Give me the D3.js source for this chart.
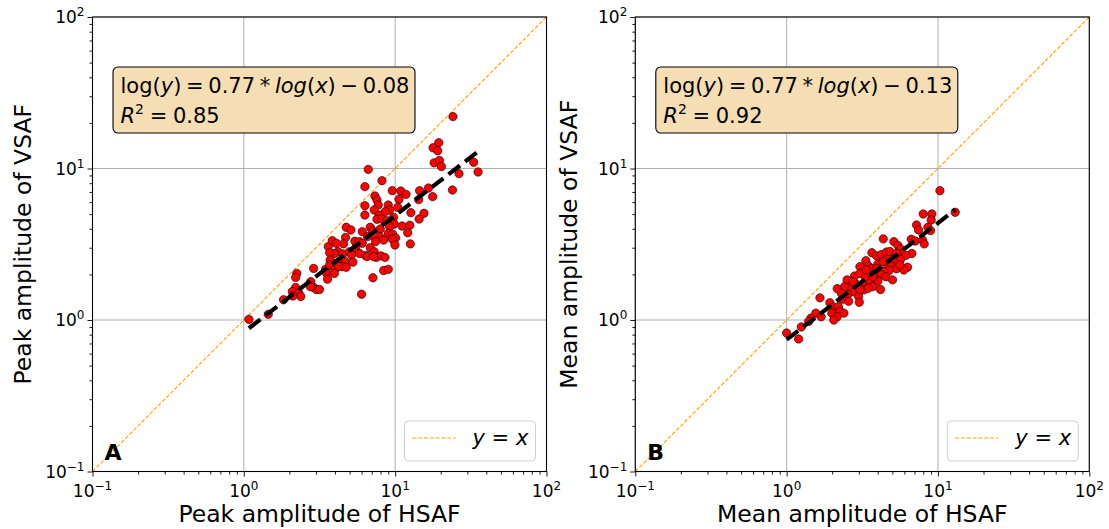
<!DOCTYPE html>
<html>
<head>
<meta charset="utf-8">
<script src="https://cdn.jsdelivr.net/npm/d3@7"></script>
<style>
  body { margin: 0; background: #fff; }
  svg text { font-family: "DejaVu Sans", sans-serif; fill: #000; }
</style>
</head>
<body>
<svg id="chart" width="1109" height="529"></svg>
<script>
// ---- data ----
const peakHSAF = [24.1,19.4,17.8,19.1,18.1,19.6,20.2,33.0,35.3,26.4,
  6.64,8.18,6.31,23.9,16.6,17.7,9.57,10.9,11.8,10.6,
  14.5,14.3,7.35,7.58,7.73,9.00,6.31,10.4,9.19,12.7,
  15.5,14.4,6.31,7.27,7.85,8.60,7.58,8.13,8.82,9.76,
  9.86,9.19,11.1,12.5,12.1,4.75,5.10,6.06,6.84,7.13,
  7.97,9.00,9.62,10.07,9.57,9.97,12.6,7.89,7.20,6.57,
  7.42,8.39,4.70,4.56,5.42,5.82,5.47,6.06,3.61,3.84,
  4.08,4.20,3.96,3.69,4.51,4.99,5.36,5.15,5.82,6.37,
  6.84,7.27,7.50,8.05,8.56,6.51,7.20,3.72,4.29,4.68,
  5.26,4.47,2.89,3.47,3.69,4.00,4.25,4.75,3.50,3.96,
  2.24,2.20,2.77,3.57,2.89,3.01,3.16,2.75,8.39,9.00,
  7.13,2.20,2.09,2.31,2.38,2.11,6.00,1.83,1.45,1.08];
const peakVSAF = [22.0,14.8,13.7,13.1,10.9,11.3,10.3,11.0,9.48,9.25,
  9.87,8.31,7.59,7.21,7.43,6.52,7.14,7.10,6.75,6.26,
  7.14,6.23,6.58,6.19,5.74,5.74,5.68,5.54,5.32,5.11,
  5.06,4.64,4.93,5.32,4.93,5.19,4.62,4.64,4.52,4.76,
  4.30,4.13,4.17,4.22,3.77,4.09,3.93,3.83,4.09,3.87,
  3.99,3.73,3.69,3.48,3.42,3.13,3.18,3.55,3.60,3.55,
  3.29,3.37,3.51,3.18,3.31,3.29,2.97,3.21,3.05,3.34,
  3.21,2.82,2.75,2.78,2.73,2.82,2.87,2.69,2.75,2.67,
  3.00,2.82,2.59,2.65,2.59,2.62,2.62,2.49,2.44,2.43,
  2.41,2.25,2.19,2.16,2.31,2.16,2.25,2.23,2.05,2.03,
  2.03,1.91,1.79,1.86,1.64,1.59,1.59,1.66,2.12,2.16,
  1.90,1.64,1.54,1.50,1.43,1.44,1.48,1.36,1.09,1.01];

const meanHSAF = [10.3,7.99,9.11,9.02,13.0,7.22,7.44,8.58,8.93,4.35,
  5.11,5.43,6.66,7.07,7.91,8.11,6.72,3.66,3.93,4.22,
  4.57,4.81,5.66,5.83,6.14,5.66,5.17,4.62,4.96,5.32,
  6.29,4.76,5.95,3.05,3.34,3.48,3.66,4.01,4.13,4.39,
  3.81,4.22,4.53,5.01,4.01,2.51,2.81,3.05,3.31,3.55,
  3.18,2.87,2.62,2.41,3.24,3.73,4.17,2.16,2.30,2.54,
  2.81,2.99,2.34,2.57,1.66,1.93,2.03,2.20,2.25,2.39,
  3.02,1.99,2.16,1.56,1.69,1.45,1.40,2.05,1.25,1.00,
  1.20,3.37,3.73,4.35,3.93,3.46,2.75,3.05,4.81,5.32,5.60];
const meanVSAF = [7.14,5.01,5.01,4.57,5.14,4.24,3.93,4.09,3.89,3.43,
  3.29,3.11,3.41,3.32,3.37,3.18,2.75,2.78,2.65,2.70,
  2.81,2.59,2.94,2.73,2.67,2.51,2.39,2.34,2.27,2.18,
  2.23,2.12,2.14,2.25,2.46,2.27,2.18,2.34,2.14,2.08,
  2.03,1.99,1.93,1.84,1.81,1.84,1.95,2.03,1.91,1.76,
  1.71,1.73,1.66,1.66,1.58,1.66,1.59,1.61,1.50,1.47,
  1.53,1.43,1.37,1.33,1.40,1.30,1.22,1.22,1.14,1.11,
  1.31,1.11,1.05,1.11,1.05,1.03,0.98,1.00,0.90,0.82,
  0.75,2.14,1.93,2.43,2.19,1.62,1.79,1.58,2.83,2.75,2.31];

// log-log regression results per panel
const fitSlope = [0.77, 0.77];
const fitIntercept = [-0.08, -0.13];
const fitR2 = ["0.85", "0.92"];

const axisDomain = [0.1, 100];
const majorTicks = [0.1, 1, 10, 100];
const tickExponents = ["\u22121", "0", "1", "2"];
const panelLetters = ["A", "B"];
const xTitles = ["Peak amplitude of HSAF", "Mean amplitude of HSAF"];
const yTitles = ["Peak amplitude of VSAF", "Mean amplitude of VSAF"];

// ---- layout ----
const svg = d3.select("#chart");
const W = 454, H = 454.5, TOP = 17;
const panelLefts = [92.5, 635.3];
const panels = [
  { xs: peakHSAF, ys: peakVSAF },
  { xs: meanHSAF, ys: meanVSAF }
];

// minor ticks 2..9 within each decade
const minorTicks = [];
[0.1, 1, 10].forEach(d => { for (let k = 2; k <= 9; k++) minorTicks.push(d * k); });

function mathText(sel, parts) {
  parts.forEach(([t, it]) => {
    sel.append("tspan").attr("font-style", it ? "italic" : "normal").text(t);
  });
}

panels.forEach((p, i) => {
  const left = panelLefts[i];
  const g = svg.append("g").attr("transform", `translate(${left},${TOP})`);
  const x = d3.scaleLog().domain(axisDomain).range([0, W]);
  const y = d3.scaleLog().domain(axisDomain).range([H, 0]);

  // grid at major decades
  const grid = g.append("g");
  majorTicks.forEach(v => {
    grid.append("line").attr("x1", x(v)).attr("x2", x(v)).attr("y1", 0).attr("y2", H)
      .attr("stroke", "#b0b0b0").attr("stroke-width", 1);
    grid.append("line").attr("y1", y(v)).attr("y2", y(v)).attr("x1", 0).attr("x2", W)
      .attr("stroke", "#b0b0b0").attr("stroke-width", 1);
  });

  // identity line y = x
  g.append("line")
    .attr("x1", x(axisDomain[0])).attr("y1", y(axisDomain[0]))
    .attr("x2", x(axisDomain[1])).attr("y2", y(axisDomain[1]))
    .attr("stroke", "orange").attr("stroke-width", 1.1)
    .attr("stroke-dasharray", "4,1.8");

  // scatter
  g.append("g").selectAll("circle").data(p.xs.map((v, k) => [v, p.ys[k]])).join("circle")
    .attr("cx", d => x(d[0])).attr("cy", d => y(d[1])).attr("r", 4.2)
    .attr("fill", "#ff0000").attr("stroke", "#000").attr("stroke-width", 0.6);

  // regression line, log10(y) = a*log10(x) + b
  const xMin = d3.min(p.xs), xMax = d3.max(p.xs);
  const fy = v => Math.pow(10, fitSlope[i] * Math.log10(v) + fitIntercept[i]);
  g.append("line")
    .attr("x1", x(xMin)).attr("y1", y(fy(xMin)))
    .attr("x2", x(xMax)).attr("y2", y(fy(xMax)))
    .attr("stroke", "#000").attr("stroke-width", 4.2)
    .attr("stroke-dasharray", "14.5,6.5");

  // axes: spines + ticks
  const xAxis = g.append("g").attr("transform", `translate(0,${H})`);
  xAxis.call(d3.axisBottom(x).tickValues(majorTicks).tickFormat("").tickSize(5).tickSizeOuter(0));
  xAxis.append("g").call(d3.axisBottom(x).tickValues(minorTicks).tickFormat("").tickSize(3).tickSizeOuter(0));
  const yAxis = g.append("g");
  yAxis.call(d3.axisLeft(y).tickValues(majorTicks).tickFormat("").tickSize(5).tickSizeOuter(0));
  yAxis.append("g").call(d3.axisLeft(y).tickValues(minorTicks).tickFormat("").tickSize(3).tickSizeOuter(0));
  g.selectAll(".domain").remove();
  g.selectAll(".tick line").attr("stroke", "#000").attr("stroke-width", 0.9);

  g.append("rect").attr("x", 0).attr("y", 0).attr("width", W).attr("height", H)
    .attr("fill", "none").attr("stroke", "#000").attr("stroke-width", 1.1);

  // tick labels 10^n
  majorTicks.forEach((v, k) => {
    const tx = g.append("text").attr("x", x(v)).attr("y", H + 25.5)
      .attr("text-anchor", "middle").attr("font-size", 17);
    tx.append("tspan").text("10");
    tx.append("tspan").attr("font-size", 12).attr("dy", -7).text(tickExponents[k]);
    const ty = g.append("text").attr("x", -8).attr("y", y(v) + 6)
      .attr("text-anchor", "end").attr("font-size", 17);
    ty.append("tspan").text("10");
    ty.append("tspan").attr("font-size", 12).attr("dy", -7).text(tickExponents[k]);
  });

  // axis titles
  g.append("text").attr("x", W / 2).attr("y", H + 50)
    .attr("text-anchor", "middle").attr("font-size", 23.5).text(xTitles[i]);
  g.append("text").attr("transform", `translate(${i === 0 ? -62 : -58},${H / 2}) rotate(-90)`)
    .attr("text-anchor", "middle").attr("font-size", 23.5).text(yTitles[i]);

  // equation box
  const box = g.append("g").attr("transform", "translate(20.5,50)");
  box.append("rect").attr("width", 302).attr("height", 66).attr("rx", 5)
    .attr("fill", "#f5deb3").attr("stroke", "#000").attr("stroke-width", 1.1);
  const eq = box.append("text").attr("x", 7.5).attr("y", 26).attr("font-size", 21)
    .attr("word-spacing", -2);
  const sign = fitIntercept[i] < 0 ? " \u2212 " : " + ";
  mathText(eq, [["log(", false], ["y", true], [") = " + fitSlope[i].toFixed(2) + " * ", false],
    ["log", true], ["(", false], ["x", true], [")" + sign + Math.abs(fitIntercept[i]).toFixed(2), false]]);
  const r2 = box.append("text").attr("x", 7.5).attr("y", 56).attr("font-size", 21)
    .attr("word-spacing", -1);
  r2.append("tspan").attr("font-style", "italic").text("R");
  r2.append("tspan").attr("font-size", 14).attr("dy", -9).text("2");
  r2.append("tspan").attr("dy", 9).text(" = " + fitR2[i]);

  // legend
  const lg = g.append("g").attr("transform", `translate(${W - 142},${H - 50.5})`);
  lg.append("rect").attr("width", 131).attr("height", 40).attr("rx", 4)
    .attr("fill", "#fff").attr("fill-opacity", 0.8).attr("stroke", "#d0d0d0").attr("stroke-width", 1);
  lg.append("line").attr("x1", 8).attr("x2", 51).attr("y1", 17).attr("y2", 17)
    .attr("stroke", "orange").attr("stroke-width", 1.1).attr("stroke-dasharray", "4,1.8");
  const lt = lg.append("text").attr("x", 68).attr("y", 24).attr("font-size", 21);
  mathText(lt, [["y", true], [" = ", false], ["x", true]]);

  // panel letter
  g.append("text").attr("x", 12).attr("y", H - 11.5).attr("font-size", 22)
    .attr("font-weight", "bold").text(panelLetters[i]);
});
</script>
</body>
</html>
